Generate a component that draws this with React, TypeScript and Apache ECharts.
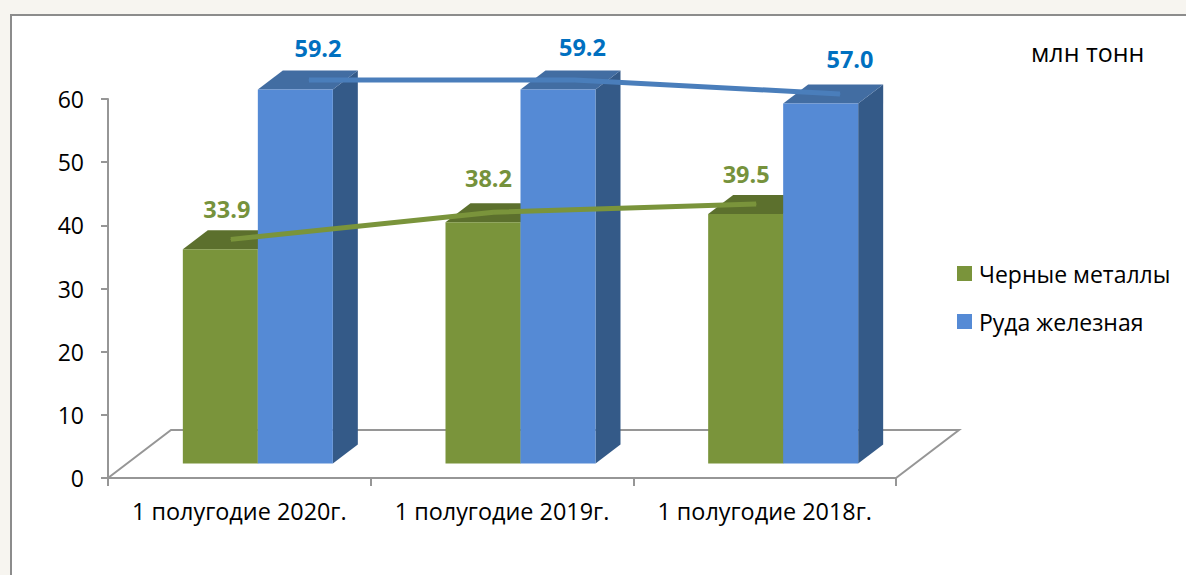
import React, { useEffect, useRef } from "react";
import * as echarts from "echarts";

const categories = ["1 полугодие 2020г.", "1 полугодие 2019г.", "1 полугодие 2018г."];
const metals = [33.9, 38.2, 39.5];
const ore = [59.2, 59.2, 57.0];
const metalsName = "Черные металлы";
const oreName = "Руда железная";
const unitLabel = "млн тонн";
const yTicks = { min: 0, max: 60, interval: 10 };

const FONT = "'Open Sans', sans-serif";
const BAR_W = 75;
const FRONT_DX = 18.5;
const FRONT_DY = -14.5;
const DEPTH_DX = 25;
const DEPTH_DY = -19;
const metalLabelOffsets = [[-4, -10], [-5, -14], [-10, -9]];
const oreLabelOffsets = [[9, -12], [8, -13], [10, -14]];

function bar3d(barOffset: number, front: string, side: string, top: string) {
  return (params: any, api: any) => {
    const cat = api.value(0);
    const val = api.value(1);
    const base = api.coord([cat, 0]);
    const head = api.coord([cat, val]);
    const x0 = base[0] + FRONT_DX + barOffset;
    const x1 = x0 + BAR_W;
    const yb = base[1] + FRONT_DY;
    const yt = head[1] + FRONT_DY;
    return {
      type: "group",
      children: [
        {
          type: "polygon",
          shape: { points: [[x1, yb], [x1 + DEPTH_DX, yb + DEPTH_DY], [x1 + DEPTH_DX, yt + DEPTH_DY], [x1, yt]] },
          style: { fill: side },
        },
        {
          type: "polygon",
          shape: { points: [[x0, yt], [x1, yt], [x1 + DEPTH_DX, yt + DEPTH_DY], [x0 + DEPTH_DX, yt + DEPTH_DY]] },
          style: { fill: top },
        },
        { type: "rect", shape: { x: x0, y: yt, width: BAR_W, height: yb - yt }, style: { fill: front } },
      ],
    };
  };
}

export default function App() {
  const ref = useRef<HTMLDivElement>(null);
  useEffect(() => {
    document.body.style.margin = "0";
    const chart = echarts.init(ref.current!, null, { renderer: "svg" });
    const axisGray = "#969696";
    const grid = { left: 108, right: 290, top: 99, bottom: 97 };
    const lineLabel = (color: string) => ({
      show: true,
      position: "top" as const,
      distance: 8,
      color,
      fontFamily: FONT,
      fontWeight: "bold" as const,
      fontSize: 23.5,
      formatter: (p: any) => (p.value as number).toFixed(1),
    });
    chart.setOption({
      animation: false,
      backgroundColor: "#f7f5f0",
      textStyle: { fontFamily: FONT },
      title: {
        text: unitLabel,
        left: 1031,
        top: 39,
        padding: 0,
        textStyle: { fontFamily: FONT, fontSize: 25, fontWeight: "normal", color: "#000" },
      },
      legend: {
        orient: "vertical",
        left: 957,
        top: 262,
        padding: 0,
        icon: "rect",
        itemWidth: 15,
        itemHeight: 15,
        itemGap: 25,
        data: [metalsName, oreName],
        textStyle: { fontFamily: FONT, fontSize: 23, color: "#000", padding: [0, 0, 0, 2] },
      },
      graphic: [
        {
          type: "rect",
          z: -10,
          silent: true,
          shape: { x: 11, y: 15, width: 1300, height: 700 },
          style: { fill: "#fff", stroke: "#8c8c8c", lineWidth: 2 },
        },
        {
          type: "polyline",
          z: -5,
          silent: true,
          shape: { points: [[108, 478], [171, 430], [959, 430], [896, 478]] },
          style: { fill: "none", stroke: axisGray, lineWidth: 2 },
        },
      ],
      grid: [
        grid,
        { ...grid, left: grid.left - 8.5, right: grid.right + 8.5, top: grid.top - 24.5, bottom: grid.bottom + 24.5 },
        { left: 176.25, width: 796.5, top: grid.top - 24, bottom: grid.bottom + 24 },
      ],
      xAxis: [
        {
          type: "category",
          data: categories,
          gridIndex: 0,
          axisLine: { lineStyle: { color: axisGray, width: 2 } },
          axisTick: { show: true, interval: 0, length: 8, lineStyle: { color: axisGray, width: 2 } },
          axisLabel: { color: "#000", fontFamily: FONT, fontSize: 23.4, margin: 21, interval: 0 },
        },
        { type: "category", data: categories, gridIndex: 1, show: false },
        { type: "category", data: categories, gridIndex: 2, show: false },
      ],
      yAxis: [
        {
          type: "value",
          ...yTicks,
          gridIndex: 0,
          axisLine: { show: true, lineStyle: { color: axisGray, width: 2 } },
          axisTick: { show: true, length: 7, lineStyle: { color: axisGray, width: 2 } },
          splitLine: { show: false },
          axisLabel: { color: "#000", fontFamily: FONT, fontSize: 23, margin: 24 },
        },
        { type: "value", ...yTicks, gridIndex: 1, show: false, splitLine: { show: false } },
        { type: "value", ...yTicks, gridIndex: 2, show: false, splitLine: { show: false } },
      ],
      series: [
        {
          type: "custom",
          name: metalsName,
          z: 3,
          clip: false,
          itemStyle: { color: "#7a943b" },
          encode: { x: 0, y: 1 },
          data: metals.map((v, i) => [i, v]),
          renderItem: bar3d(-BAR_W, "#7a943b", "#5c702d", "#5c702d"),
        },
        {
          type: "custom",
          name: oreName,
          z: 4,
          clip: false,
          itemStyle: { color: "#558ad5" },
          encode: { x: 0, y: 1 },
          data: ore.map((v, i) => [i, v]),
          renderItem: bar3d(0, "#558ad5", "#345a88", "#426da2"),
        },
        {
          type: "line",
          name: metalsName,
          xAxisIndex: 1,
          yAxisIndex: 1,
          z: 5,
          symbol: "circle",
          symbolSize: 1,
          clip: false,
          itemStyle: { color: "#7a943b" },
          lineStyle: { color: "#7a943b", width: 5, cap: "butt" },
          label: lineLabel("#76923c"),
          data: metals.map((v, i) => ({ value: v, label: { offset: metalLabelOffsets[i] } })),
        },
        {
          type: "line",
          name: oreName,
          xAxisIndex: 2,
          yAxisIndex: 2,
          z: 5,
          symbol: "circle",
          symbolSize: 1,
          clip: false,
          itemStyle: { color: "#4a7ebb" },
          lineStyle: { color: "#4a7ebb", width: 5, cap: "butt" },
          label: lineLabel("#0070c0"),
          data: ore.map((v, i) => ({ value: v, label: { offset: oreLabelOffsets[i] } })),
        },
      ],
    });
    return () => chart.dispose();
  }, []);
  return <div ref={ref} style={{ width: 1186, height: 575 }} />;
}
